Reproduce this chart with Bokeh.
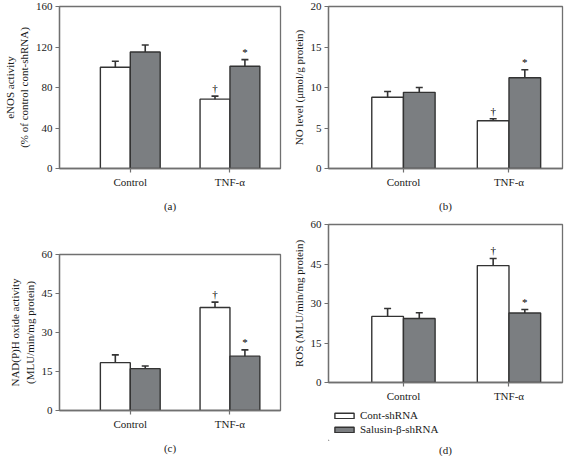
import numpy as np
from bokeh.plotting import figure
from bokeh.models import (ColumnDataSource, Range1d, FixedTicker, Whisker, TeeHead,
                          Legend, LegendItem, Title)
from bokeh.layouts import row, column
from bokeh.core.properties import value
from bokeh.embed import file_html
from bokeh.resources import INLINE

# ---------------- data ----------------
categories = ["Control", "TNF-α"]
series_names = ["Cont-shRNA", "Salusin-β-shRNA"]

enos_cont = [100, 68.5]
enos_cont_err = [6, 3]
enos_sal = [115, 101]
enos_sal_err = [7, 6.5]
enos_ticks = [0, 40, 80, 120, 160]

no_cont = [8.8, 5.9]
no_cont_err = [0.7, 0.25]
no_sal = [9.4, 11.2]
no_sal_err = [0.6, 1.0]
no_ticks = [0, 5, 10, 15, 20]

nadph_cont = [18.4, 39.6]
nadph_cont_err = [3.0, 2.1]
nadph_sal = [16.1, 20.9]
nadph_sal_err = [1.0, 2.4]
nadph_ticks = [0, 15, 30, 45, 60]

ros_cont = [25.1, 44.4]
ros_cont_err = [3.0, 2.7]
ros_sal = [24.3, 26.4]
ros_sal_err = [2.2, 1.3]
ros_ticks = [0, 15, 30, 45, 60]

cont_marks = ["", "†"]
sal_marks = ["", "*"]

# ---------------- style ----------------
FONT = value("Liberation Serif")
FONT_NAME = "Liberation Serif"
FRAME = "#707070"
EDGE = "#333333"
GRAY = "#7b7e81"
TXT = "#1a1a1a"
BAR_W = 0.3


def make_panel(cont, cont_err, sal, sal_err, ticks, ylabel, plabel,
               width, height, bl, br, bt, bb, label_standoff):
    positions = [i + 1 for i in range(len(categories))]
    p = figure(width=width, height=height,
               x_range=Range1d(0.29, 2.507), y_range=Range1d(ticks[0], ticks[-1]),
               output_backend="svg", toolbar_location=None,
               min_border_left=bl, min_border_right=br,
               min_border_top=bt, min_border_bottom=bb)
    p.xgrid.visible = False
    p.ygrid.visible = False
    p.outline_line_color = FRAME
    p.outline_line_width = 1.3
    p.background_fill_color = "white"
    p.border_fill_color = "white"

    xc = [x - BAR_W / 2 for x in positions]
    xs = [x + BAR_W / 2 for x in positions]
    src_c = ColumnDataSource(dict(x=xc, top=cont, up=[v + e for v, e in zip(cont, cont_err)],
                                  mark=cont_marks))
    src_s = ColumnDataSource(dict(x=xs, top=sal, up=[v + e for v, e in zip(sal, sal_err)],
                                  mark=sal_marks))

    p.vbar(x="x", top="top", bottom=0, width=BAR_W, source=src_c,
           fill_color="white", line_color=EDGE, line_width=1.4)
    p.vbar(x="x", top="top", bottom=0, width=BAR_W, source=src_s,
           fill_color=GRAY, line_color=EDGE, line_width=1.4)

    for src in (src_c, src_s):
        w = Whisker(source=src, base="x", lower="top", upper="up", dimension="height",
                    line_color=EDGE, line_width=1.6, lower_head=None,
                    upper_head=TeeHead(size=7, line_color=EDGE, line_width=1.6),
                    level="glyph")
        p.add_layout(w)
        p.text(x="x", y="up", text="mark", source=src, text_align="center",
               text_baseline="bottom", y_offset=-2, text_font=FONT,
               text_font_size="11px", text_color="#000000")

    p.xaxis.ticker = FixedTicker(ticks=positions)
    p.xaxis.major_label_overrides = {pos: c for pos, c in zip(positions, categories)}
    p.yaxis.ticker = FixedTicker(ticks=ticks)
    p.yaxis.axis_label = ylabel
    if plabel:
        p.xaxis.axis_label = plabel
    for ax in (p.xaxis[0], p.yaxis[0]):
        ax.axis_line_color = FRAME
        ax.axis_line_width = 1.3
        ax.major_tick_line_color = FRAME
        ax.major_tick_line_width = 1.2
        ax.major_tick_out = 4
        ax.major_tick_in = 0
        ax.minor_tick_line_color = None
        ax.major_label_text_font = FONT_NAME
        ax.major_label_text_font_size = "11px"
        ax.major_label_text_color = TXT
        ax.major_label_standoff = 3
        ax.axis_label_text_font = FONT_NAME
        ax.axis_label_text_font_size = "11px"
        ax.axis_label_text_font_style = "normal"
        ax.axis_label_text_color = TXT
        ax.axis_label_standoff = 3
    p.xaxis.axis_label_standoff = label_standoff
    return p


pa = make_panel(enos_cont, enos_cont_err, enos_sal, enos_sal_err, enos_ticks,
                "eNOS activity\n(% of control cont-shRNA)", "(a)",
                286, 216, 50, 6, 6, 48, 9)
pb = make_panel(no_cont, no_cont_err, no_sal, no_sal_err, no_ticks,
                "NO level (μmol/g protein)", "(b)",
                278, 216, 42, 2, 6, 48, 9)
pc = make_panel(nadph_cont, nadph_cont_err, nadph_sal, nadph_sal_err, nadph_ticks,
                "NAD(P)H oxide activity\n(MLU/min/mg protein)", "(c)",
                286, 240, 50, 6, 38, 44, 9)
pd = make_panel(ros_cont, ros_cont_err, ros_sal, ros_sal_err, ros_ticks,
                "ROS (MLU/min/mg protein)", None,
                278, 188, 42, 2, 8, 22, 0)

# legend strip under panel (d), carrying the panel label "(d)"
lf = figure(width=278, height=52, x_range=Range1d(0, 1), y_range=Range1d(0, 1),
            output_backend="svg", toolbar_location=None,
            min_border_left=42, min_border_right=2, min_border_top=0, min_border_bottom=0)
lf.axis.visible = False
lf.grid.visible = False
lf.outline_line_color = None
lf.border_fill_color = "white"
# off-frame placeholder renderers that only carry the legend swatch styles
r_white = lf.vbar(x=[-5], top=[-5], bottom=[-6], width=0.1,
                  fill_color="white", line_color=EDGE, line_width=1.4)
r_gray = lf.vbar(x=[-5], top=[-5], bottom=[-6], width=0.1,
                 fill_color=GRAY, line_color=EDGE, line_width=1.4)
lg = Legend(items=[LegendItem(label=series_names[0], renderers=[r_white]),
                   LegendItem(label=series_names[1], renderers=[r_gray])],
            location="top_left", orientation="vertical",
            glyph_height=7, glyph_width=24, label_height=14,
            label_standoff=4, spacing=0, padding=0, margin=4,
            border_line_color=None, background_fill_alpha=0,
            label_text_font=FONT_NAME, label_text_font_size="11px",
            label_text_color=TXT)
lf.add_layout(lg)
lf.add_layout(Title(text="(d)", align="center", text_font=FONT_NAME, text_font_size="11px",
                    text_font_style="normal", text_color=TXT, standoff=2), "below")

layout = row(column(pa, pc), column(pb, pd, lf))
open("out.html", "w").write(file_html(layout, INLINE))
